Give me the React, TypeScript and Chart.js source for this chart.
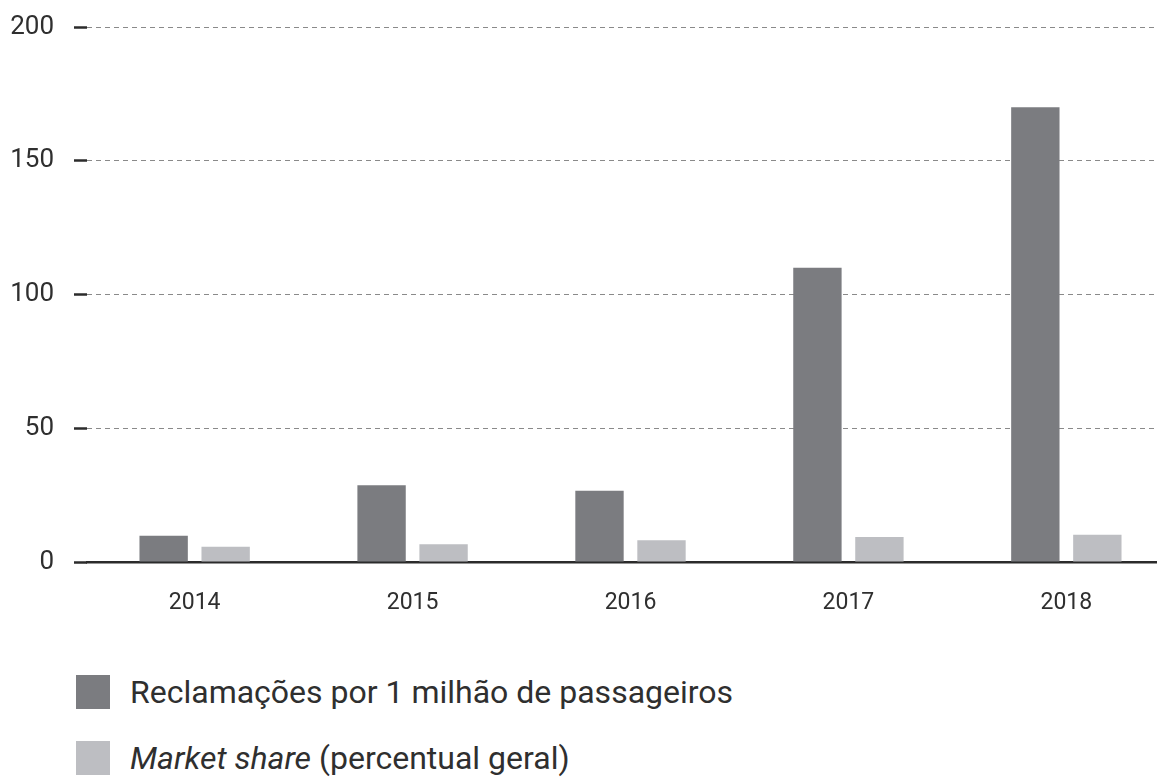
import React, { useEffect, useRef } from "react";
import { Chart, registerables } from "chart.js";

Chart.register(...registerables);

const years = ["2014", "2015", "2016", "2017", "2018"];
const complaints = [9.8, 28.7, 26.6, 110, 170];
const marketShare = [5.7, 6.6, 8.1, 9.3, 10.2];
const yTicks = [0, 50, 100, 150, 200];

const DARK = "#7b7c80";
const LIGHT = "#bdbec2";
const TEXT = "#2f2f2f";
const FONT = "Roboto, 'DejaVu Sans', sans-serif";

export default function App() {
  const ref = useRef<HTMLCanvasElement | null>(null);

  useEffect(() => {
    if (!ref.current) return;
    const chart = new Chart(ref.current, {
      type: "bar",
      data: {
        datasets: [
          {
            label: "Reclamações por 1 milhão de passageiros",
            data: years.map((_, i) => ({ x: i, y: complaints[i] })),
            backgroundColor: DARK,
            categoryPercentage: 0.569,
            barPercentage: 0.78,
          },
          {
            label: "Market share (percentual geral)",
            data: years.map((_, i) => ({ x: i, y: marketShare[i] })),
            backgroundColor: LIGHT,
            categoryPercentage: 0.569,
            barPercentage: 0.78,
          },
        ],
      },
      options: {
        animation: false,
        responsive: false,
        maintainAspectRatio: false,
        layout: { padding: { top: 27, right: 0, bottom: 0, left: 0 } },
        plugins: { legend: { display: false }, tooltip: { enabled: false } },
        scales: {
          x: {
            type: "linear",
            offset: false,
            min: -0.494,
            max: 4.416,
            grid: { display: false, drawTicks: false, offset: false },
            border: { display: true, color: "#2b2b2b", width: 2.5 },
            afterFit: (s: any) => {
              s.height = 640 - 562;
            },
            afterBuildTicks: (s: any) => {
              s.ticks = years.map((_, i) => ({ value: i }));
            },
            ticks: {
              padding: 27,
              color: TEXT,
              font: { family: FONT, size: 23 },
              maxRotation: 0,
              autoSkip: false,
              callback: (v: any) => years[v as number] ?? "",
            },
          },
          y: {
            min: 0,
            max: 200,
            afterFit: (s: any) => {
              s.width = 87;
              s.paddingTop = 0;
              s.paddingBottom = 0;
            },
            afterBuildTicks: (s: any) => {
              s.ticks = yTicks.map((v) => ({ value: v }));
            },
            grid: {
              color: (c: any) => (c.tick && c.tick.value === 0 ? "rgba(0,0,0,0)" : "#8a8a8a"),
              lineWidth: 1,
              tickLength: 13,
              tickColor: "#2b2b2b",
              tickWidth: 2.5,
              tickBorderDash: [],
            },
            border: { display: false, dash: [5, 4] },
            ticks: {
              padding: 20,
              color: TEXT,
              font: { family: FONT, size: 26 },
            },
          },
        },
      },
    });
    return () => chart.destroy();
  }, []);

  const item = (top: number, color: string, content: React.ReactNode) => (
    <div
      style={{
        position: "absolute",
        left: 76,
        top,
        height: 34,
        display: "flex",
        alignItems: "center",
      }}
    >
      <div style={{ width: 34, height: 34, background: color }} />
      <div
        style={{
          marginLeft: 20,
          fontFamily: FONT,
          fontSize: 32,
          color: TEXT,
          whiteSpace: "nowrap",
          lineHeight: "34px",
        }}
      >
        {content}
      </div>
    </div>
  );

  return (
    <div
      style={{
        position: "absolute",
        left: 0,
        top: 0,
        width: 1157,
        height: 780,
        background: "#ffffff",
        overflow: "hidden",
      }}
    >
      <canvas ref={ref} width={1157} height={640} style={{ display: "block" }} />
      {item(675, DARK, "Reclamações por 1 milhão de passageiros")}
      {item(741, LIGHT, (
        <>
          <i>Market share</i> (percentual geral)
        </>
      ))}
    </div>
  );
}
